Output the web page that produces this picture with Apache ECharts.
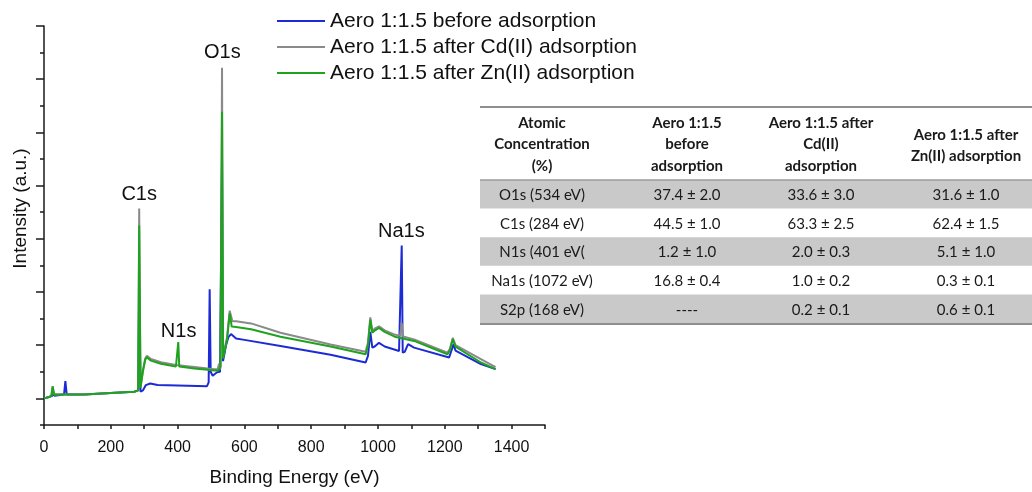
<!DOCTYPE html>
<html>
<head>
<meta charset="utf-8">
<script src="https://cdn.jsdelivr.net/npm/echarts@6/dist/echarts.min.js"></script>
<style>
  html, body { margin: 0; padding: 0; background: #fff; }
  #chart { width: 1032px; height: 492px; }
</style>
</head>
<body>
<div id="chart"></div>
<script>
// spectra: [binding energy (eV), intensity (a.u.)]
const blueBefore = [
  [0,1.0],[15,1.05],[25,1.1],[28,1.2],[31,1.1],[60,1.15],[64,1.65],[68,1.15],[120,1.15],[200,1.2],
  [270,1.25],[282,1.3],[285,5.0],[289,1.25],[296,1.3],[305,1.5],[318,1.56],[340,1.5],[430,1.48],
  [488,1.46],[493,1.6],[496,5.1],[499,2.0],[505,1.85],[518,1.98],[527,2.0],[533,10.0],[536,2.4],
  [545,3.0],[552,3.3],[560,3.42],[575,3.25],[600,3.2],[708,2.97],[858,2.64],[963,2.35],[970,2.6],
  [977,3.5],[983,2.91],[990,2.95],[1003,3.09],[1020,2.95],[1063,2.78],[1068,2.8],[1071,6.75],
  [1074,2.72],[1080,2.75],[1090,3.04],[1108,2.91],[1213,2.54],[1220,2.8],[1226,3.03],[1232,2.8],
  [1308,2.29],[1352,2.1]
];
const grayCd = [
  [0,1.0],[15,1.05],[22,1.1],[26,1.45],[30,1.15],[60,1.15],[120,1.15],[200,1.2],[270,1.25],
  [282,1.3],[285,8.14],[289,1.45],[296,2.05],[303,2.5],[308,2.6],[320,2.48],[350,2.36],[395,2.26],
  [450,2.18],[490,2.12],[510,2.1],[520,2.1],[524,2.3],[527,2.1],[529,2.2],[533,13.43],[536,2.6],
  [540,2.6],[548,3.3],[556,4.3],[564,3.9],[575,3.9],[620,3.82],[708,3.47],[858,3.03],[963,2.75],
  [970,3.1],[977,4.05],[983,3.53],[990,3.62],[1003,3.71],[1020,3.56],[1050,3.4],[1066,3.35],
  [1071,3.84],[1075,3.33],[1108,3.22],[1208,2.72],[1215,2.86],[1224,3.28],[1232,3.0],[1308,2.48],
  [1352,2.18]
];
const greenZn = [
  [0,1.0],[15,1.05],[22,1.1],[26,1.45],[30,1.15],[60,1.15],[120,1.15],[200,1.2],[270,1.25],
  [282,1.3],[285,7.5],[289,1.4],[296,2.0],[303,2.45],[308,2.55],[320,2.42],[350,2.3],[395,2.2],
  [399,2.22],[402,3.12],[405,2.2],[450,2.12],[490,2.08],[510,2.05],[522,2.05],[528,2.2],[533,11.78],
  [536,2.5],[540,2.5],[548,3.2],[556,4.2],[562,3.7],[575,3.68],[620,3.6],[708,3.32],[858,2.95],
  [963,2.66],[970,3.0],[977,3.96],[983,3.47],[990,3.55],[1003,3.65],[1020,3.5],[1050,3.32],
  [1108,3.16],[1208,2.66],[1215,2.8],[1224,3.22],[1232,2.95],[1308,2.35],[1352,2.1]
];
const seriesNames = [
  'Aero 1:1.5 before adsorption',
  'Aero 1:1.5 after Cd(II) adsorption',
  'Aero 1:1.5 after Zn(II) adsorption'
];
// peak name, energy, label height
const peakLabels = [['C1s',285,8.65],['O1s',534,14.0],['N1s',403,3.53],['Na1s',1070,7.28]];
const yTickSlots = ['0','1','2','3','4','5','6','7','8','9','10','11','12','13','14','15'];

// table
const headerCols = [
  ['Atomic','Concentration','(%)'],
  ['Aero 1:1.5','before','adsorption'],
  ['Aero 1:1.5 after','Cd(II)','adsorption'],
  ['Aero 1:1.5 after','Zn(II) adsorption']
];
const rowLabels = ['O1s (534 eV)','C1s (284 eV)','N1s (401 eV(','Na1s (1072 eV)','S2p (168 eV)'];
const beforeVals = ['37.4 ± 2.0','44.5 ± 1.0','1.2 ± 1.0','16.8 ± 0.4','----'];
const afterCdVals = ['33.6 ± 3.0','63.3 ± 2.5','2.0 ± 0.3','1.0 ± 0.2','0.2 ± 0.1'];
const afterZnVals = ['31.6 ± 1.0','62.4 ± 1.5','5.1 ± 1.0','0.3 ± 0.1','0.6 ± 0.1'];

const colX = [542, 687, 821, 966];
const tblLeft = 480, tblTop = 107, headBottom = 180, rowH = 28.6;
const tableFont = 'Lato, "Open Sans", sans-serif';

const graphics = [];
rowLabels.forEach((r, i) => {
  if (i % 2 === 0) {
    graphics.push({ type: 'rect', shape: { x: tblLeft, y: headBottom + i * rowH, width: 1032 - tblLeft, height: rowH },
      style: { fill: '#c9c9c9' }, silent: true });
  }
});
graphics.push({ type: 'line', shape: { x1: tblLeft, y1: tblTop, x2: 1032, y2: tblTop }, style: { stroke: '#8e8e8e', lineWidth: 2 } });
graphics.push({ type: 'line', shape: { x1: tblLeft, y1: headBottom, x2: 1032, y2: headBottom }, style: { stroke: '#9a9a9a', lineWidth: 1.5 } });
graphics.push({ type: 'line', shape: { x1: tblLeft, y1: headBottom + 5 * rowH + 1, x2: 1032, y2: headBottom + 5 * rowH + 1 }, style: { stroke: '#8e8e8e', lineWidth: 2 } });

headerCols.forEach((lines, c) => {
  const y0 = lines.length === 3 ? 123 : 135;
  lines.forEach((t, k) => {
    graphics.push({ type: 'text', x: colX[c], y: y0 + k * 21.5,
      style: { text: t, textAlign: 'center', textVerticalAlign: 'middle', fontFamily: tableFont,
        fontWeight: 'bold', fontSize: 15, fill: '#1a1a1a' } });
  });
});
[rowLabels, beforeVals, afterCdVals, afterZnVals].forEach((col, c) => {
  col.forEach((t, i) => {
    graphics.push({ type: 'text', x: colX[c], y: headBottom + i * rowH + rowH / 2 + 1,
      style: { text: t, textAlign: 'center', textVerticalAlign: 'middle', fontFamily: tableFont,
        fontSize: 15, fill: '#1a1a1a' } });
  });
});

const axisColor = '#1a1a1a';
const chart = echarts.init(document.getElementById('chart'));
const option = {
  animation: false,
  textStyle: { fontFamily: '"Liberation Sans", Arial, sans-serif' },
  color: ['#1c2bd6', '#8a8a8a', '#1fa31f'],
  legend: {
    orient: 'vertical', left: 277, top: 8, itemGap: 0, padding: 0,
    icon: 'rect', itemWidth: 48, itemHeight: 2,
    data: seriesNames,
    textStyle: { fontSize: 21, lineHeight: 26, color: '#111', fontFamily: '"Liberation Sans", Arial, sans-serif' }
  },
  grid: { left: 44, right: 487, top: 26, bottom: 62 },
  xAxis: {
    type: 'value', min: 0, max: 1500, interval: 100,
    name: 'Binding Energy (eV)', nameLocation: 'middle', nameGap: 43,
    nameTextStyle: { fontSize: 19, color: '#111' },
    axisLine: { lineStyle: { color: axisColor, width: 1.5 } },
    axisTick: { length: 4, lineStyle: { color: axisColor, width: 1.5 } },
    axisLabel: { fontSize: 16, color: '#111', margin: 15,
      formatter: v => (v % 200 === 0 ? String(v) : '') },
    splitLine: { show: false }
  },
  yAxis: [
    {
      type: 'value', min: 0, max: 15, interval: 1,
      name: 'Intensity (a.u.)', nameLocation: 'middle', nameGap: 14,
      nameTextStyle: { fontSize: 19, color: '#111', padding: [0, 0, 0, 34] },
      axisLine: { show: true, lineStyle: { color: axisColor, width: 1.5 } },
      axisTick: { show: true, length: 4, lineStyle: { color: axisColor, width: 1.5 } },
      axisLabel: { show: false },
      splitLine: { show: false }
    },
    {
      type: 'category', data: yTickSlots, boundaryGap: false, position: 'left',
      axisLine: { show: false },
      axisTick: { show: true, length: 8, interval: (i) => i % 2 === 1, lineStyle: { color: axisColor, width: 1.5 } },
      axisLabel: { show: false },
      splitLine: { show: false }
    }
  ],
  series: [
    { name: seriesNames[0], type: 'line', data: blueBefore, showSymbol: false, lineStyle: { width: 2 } },
    { name: seriesNames[1], type: 'line', data: grayCd, showSymbol: false, lineStyle: { width: 2 } },
    { name: seriesNames[2], type: 'line', data: greenZn, showSymbol: false, lineStyle: { width: 2 } },
    {
      name: 'peaks', type: 'scatter', symbolSize: 0,
      data: peakLabels.map(p => ({ name: p[0], value: [p[1], p[2]] })),
      label: { show: true, position: 'inside', formatter: '{b}', fontSize: 20, color: '#111',
        textBorderWidth: 0, textBorderColor: 'transparent', opacity: 1 },
      itemStyle: { color: '#111' },
      silent: true
    }
  ],
  graphic: graphics
};
chart.setOption(option);
</script>
</body>
</html>
